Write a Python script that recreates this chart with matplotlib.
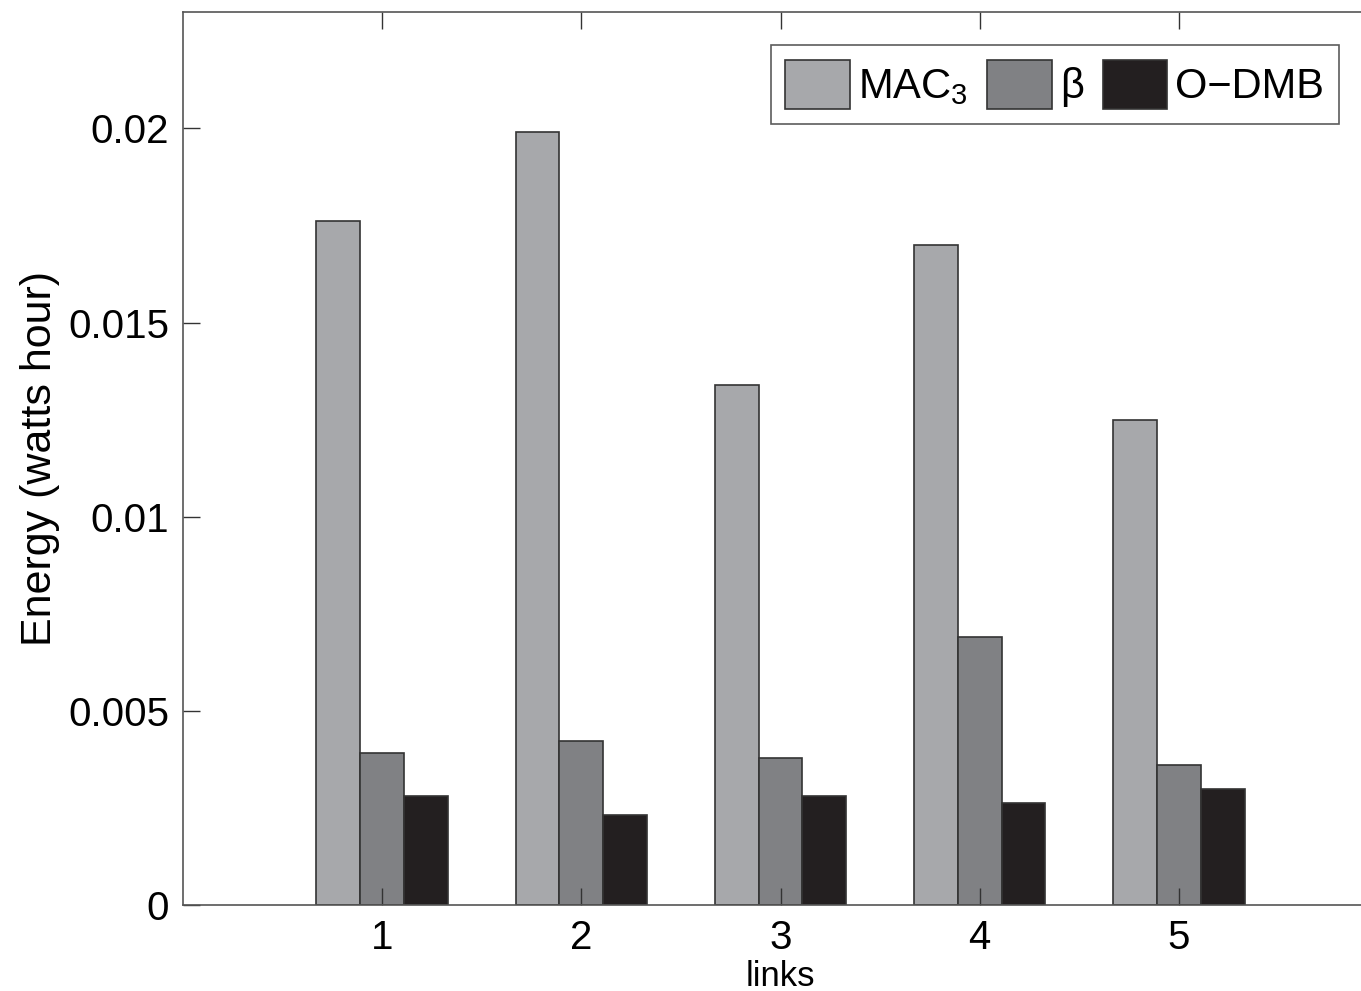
import matplotlib
matplotlib.use("Agg")
import matplotlib.pyplot as plt
import numpy as np

plt.rcParams['font.family'] = ['Liberation Sans', 'DejaVu Sans']
plt.rcParams['mathtext.fontset'] = 'custom'
plt.rcParams['mathtext.rm'] = 'Liberation Sans'
plt.rcParams['mathtext.it'] = 'Liberation Sans:italic'

links = [1, 2, 3, 4, 5]
mac3 = [0.01761, 0.0199, 0.0134, 0.0170, 0.0125]
beta = [0.00391, 0.00422, 0.00378, 0.00689, 0.0036]
odmb = [0.0028, 0.00231, 0.0028, 0.00262, 0.00298]
yticks = [0, 0.005, 0.01, 0.015, 0.02]
ytick_labels = ["0", "0.005", "0.01", "0.015", "0.02"]

series = [(mac3, "MAC$_{3}$", "#a7a8ab"),
          (beta, "\u03b2", "#808184"),
          (odmb, "O\u2212DMB", "#231f20")]

fig = plt.figure(figsize=(13.61, 9.91), dpi=100)
# axes run past the right edge of the figure, like the cropped original
ax = fig.add_axes([183 / 1361, 1 - 905 / 991, 1195 / 1361, 893 / 991])

x = np.array(links)
w = 0.22
for i, (vals, lab, col) in enumerate(series):
    ax.bar(x + (i - 1) * w, vals, width=w, color=col, edgecolor="#333333",
           linewidth=1.2, label=lab)

ax.set_xlim(0, 6)
ax.set_ylim(0, 0.023)
ax.set_xticks(links)
ax.set_xticklabels([str(v) for v in links])
ax.set_yticks(yticks)
ax.set_yticklabels(ytick_labels)
ax.tick_params(axis="both", direction="in", top=True, right=True,
               length=12, width=1, color="#333333", labelsize=29)
ax.tick_params(axis="x", pad=10)
ax.tick_params(axis="y", pad=10)
for s in ax.spines.values():
    s.set_color("#555555")
    s.set_linewidth(1.2)

ax.set_ylabel("Energy (watts hour)", fontsize=31, labelpad=6)
ax.set_xlabel("links", fontsize=25, labelpad=2)

leg = ax.legend(ncol=3, loc="upper right", fontsize=30,
                bbox_to_anchor=(1339 / 1361, 1 - 45 / 991),
                bbox_transform=fig.transFigure, borderaxespad=0,
                handlelength=1.55, handleheight=1.45, handletextpad=0.2,
                columnspacing=0.45, borderpad=0.35, frameon=True, fancybox=False)
leg.get_frame().set_edgecolor("#333333")
leg.get_frame().set_linewidth(1.2)

fig.savefig("out.png", dpi=100)
